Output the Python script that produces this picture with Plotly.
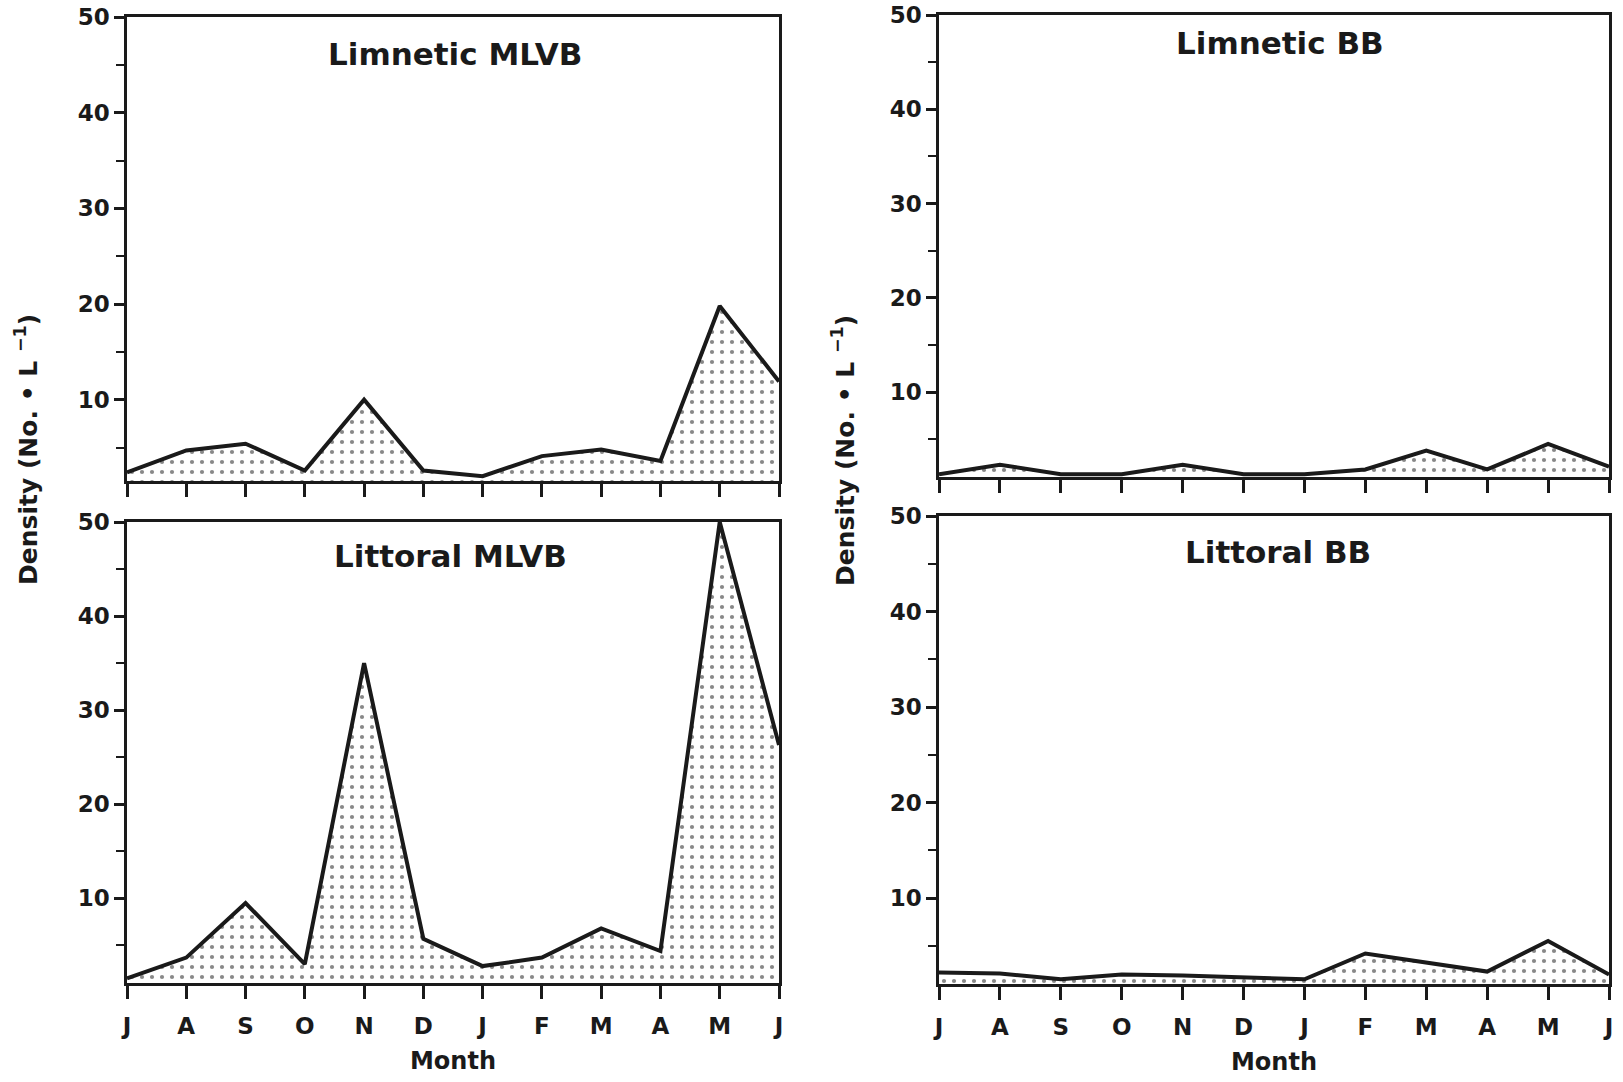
import plotly.graph_objects as go

months = ["J", "A", "S", "O", "N", "D", "J", "F", "M", "A", "M", "J"]
limnetic_mlvb = [2.4, 4.7, 5.4, 2.6, 10.0, 2.6, 2.0, 4.1, 4.8, 3.6, 19.8, 11.9]
limnetic_bb = [1.3, 2.3, 1.3, 1.3, 2.3, 1.3, 1.3, 1.8, 3.8, 1.8, 4.5, 2.1]
littoral_mlvb = [1.5, 3.7, 9.5, 3.0, 35.0, 5.7, 2.8, 3.7, 6.8, 4.4, 50.0, 26.3]
littoral_bb = [2.2, 2.1, 1.5, 2.0, 1.9, 1.7, 1.5, 4.2, 3.3, 2.3, 5.5, 2.0]
panel_titles = ["Limnetic MLVB", "Limnetic BB", "Littoral MLVB", "Littoral BB"]
y_ticks = [10, 20, 30, 40, 50]

W, H = 1623, 1082
FONT = "DejaVu Sans"
INK = "#1a1a1a"

# panel boxes in pixels: (left, right, top, bottom), y-range bottom
panels = [
    (127, 779, 17, 481, 1.5),
    (939, 1609, 15, 477, 1.0),
    (127, 779, 522, 983, 1.0),
    (939, 1609, 516, 984, 1.0),
]
title_pos = [(455, 54), (1280, 43), (450, 556), (1278, 552)]
series = [limnetic_mlvb, limnetic_bb, littoral_mlvb, littoral_bb]
xs = list(range(len(months)))

fig = go.Figure()
layout = dict(
    width=W, height=H, margin=dict(l=0, r=0, t=0, b=0, autoexpand=False),
    paper_bgcolor="white", plot_bgcolor="white", showlegend=False,
    font=dict(family=FONT, color=INK),
)
annotations = []
for i, ((l, r, t, b, ybot), vals, title) in enumerate(zip(panels, series, panel_titles)):
    n = i + 1
    xa = "x" if n == 1 else f"x{n}"
    ya = "y" if n == 1 else f"y{n}"
    fig.add_trace(go.Scatter(
        x=xs, y=vals, xaxis=xa, yaxis=ya, mode="lines",
        line=dict(color=INK, width=4),
        fill="tozeroy", fillcolor="white",
        fillpattern=dict(shape=".", size=10, solidity=0.14, fgcolor="#111", bgcolor="white"),
        cliponaxis=True,
    ))
    bottom_row = n >= 3
    xkey = "xaxis" if n == 1 else f"xaxis{n}"
    ykey = "yaxis" if n == 1 else f"yaxis{n}"
    layout[xkey] = dict(
        domain=[l / W, r / W], anchor=ya, range=[0, len(months) - 1],
        tickvals=xs, ticktext=months if bottom_row else [""] * len(months),
        ticks="outside", ticklen=13, tickwidth=2.5, tickcolor=INK,
        showline=True, linewidth=2.5, linecolor=INK, mirror=True,
        showgrid=False, zeroline=False, automargin=False,
        tickfont=dict(size=23, color=INK, family=FONT, weight="bold"),
        ticklabelstandoff=8,
        title=dict(text="Month", font=dict(size=24, color=INK, family=FONT, weight="bold"),
                   standoff=14) if bottom_row else None,
    )
    layout[ykey] = dict(
        domain=[1 - b / H, 1 - t / H], anchor=xa, range=[ybot, 50],
        tickvals=y_ticks, ticks="outside", ticklen=10, tickwidth=2.5, tickcolor=INK,
        minor=dict(tickvals=[5, 15, 25, 35, 45], ticks="outside", ticklen=8, tickwidth=2, tickcolor=INK),
        showline=True, linewidth=2.5, linecolor=INK, mirror=True,
        showgrid=False, zeroline=False, automargin=False,
        tickfont=dict(size=23, color=INK, family=FONT, weight="bold"),
    )
    tx, ty = title_pos[i]
    annotations.append(dict(
        text=title, xref="paper", yref="paper",
        x=tx / W, y=1 - ty / H,
        showarrow=False, font=dict(size=31, color=INK, family=FONT, weight="bold"),
        xanchor="center", yanchor="middle",
    ))

for xpix in (27, 844):
    annotations.append(dict(
        text="Density (No. • L <sup>−1</sup>)", xref="paper", yref="paper",
        x=xpix / W, y=1 - 450 / H, textangle=-90, showarrow=False,
        font=dict(size=25, color=INK, family=FONT, weight="bold"), xanchor="center", yanchor="middle",
    ))

layout["annotations"] = annotations
fig.update_layout(**layout)
fig.write_html("out.html")
